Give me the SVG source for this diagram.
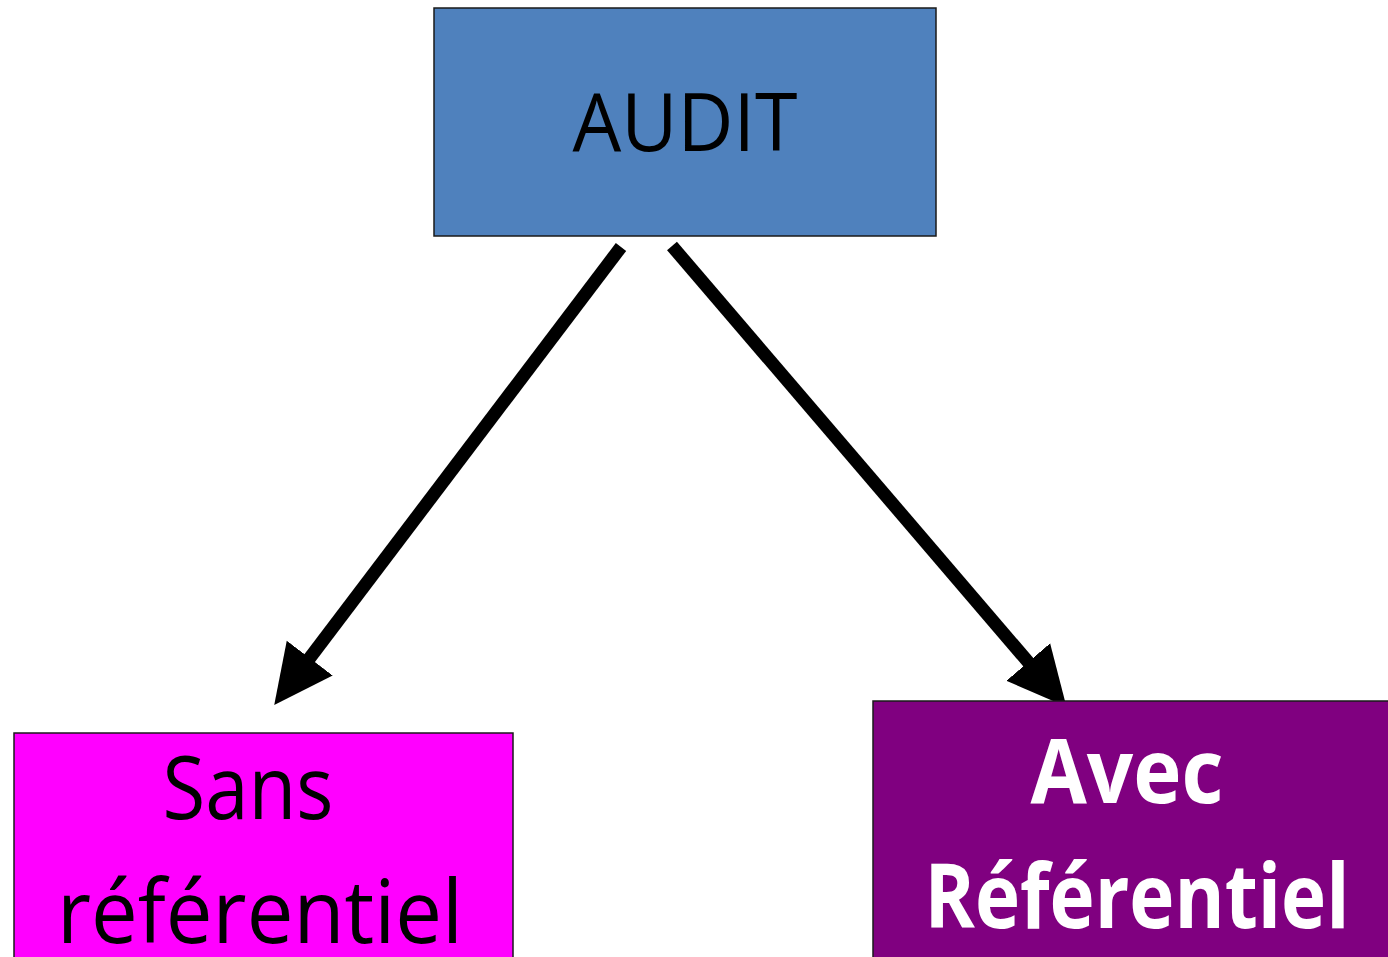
<svg xmlns="http://www.w3.org/2000/svg" width="1388" height="957" viewBox="0 0 1388 957">
<defs>
<style>
.box{stroke:#1a1a1a;stroke-width:1.5}
.lbl{font-family:"Open Sans","Liberation Sans",sans-serif;text-anchor:middle}
.conn{stroke:#000;stroke-width:13;fill:none;stroke-linecap:butt}
</style>
<marker id="head" markerUnits="userSpaceOnUse" markerWidth="60" markerHeight="60" viewBox="0 -25 50 50" refX="1" refY="0" orient="auto">
<path d="M0,-24 L49,0 L0,24 Z" fill="#000"/>
</marker>
</defs>
<rect width="1388" height="957" fill="#fff"/>
<g id="connectors">
<line class="conn" x1="621" y1="247" x2="309" y2="659" marker-end="url(#head)"/>
<line class="conn" x1="672" y1="246" x2="1029" y2="663" marker-end="url(#head)"/>
</g>
<g id="audit">
<rect class="box" x="434" y="8" width="502" height="228" fill="#4F81BD"/>
<text class="lbl" x="685" y="151" font-size="81" fill="#000" textLength="225" lengthAdjust="spacingAndGlyphs">AUDIT</text>
</g>
<g id="sans">
<rect class="box" x="14" y="733" width="499" height="240" fill="#FF00FF"/>
<text class="lbl" x="248" y="819" font-size="87" fill="#000" textLength="171" lengthAdjust="spacingAndGlyphs">Sans</text>
<text class="lbl" x="260" y="943" font-size="87" fill="#000" textLength="406" lengthAdjust="spacingAndGlyphs">référentiel</text>
</g>
<g id="avec">
<rect class="box" x="873" y="701" width="530" height="270" fill="#800080"/>
<text class="lbl" x="1127" y="803" font-size="90" font-weight="bold" fill="#fff" textLength="193" lengthAdjust="spacingAndGlyphs">Avec</text>
<text class="lbl" x="1137" y="928" font-size="90" font-weight="bold" fill="#fff" textLength="425" lengthAdjust="spacingAndGlyphs">Référentiel</text>
</g>
</svg>
